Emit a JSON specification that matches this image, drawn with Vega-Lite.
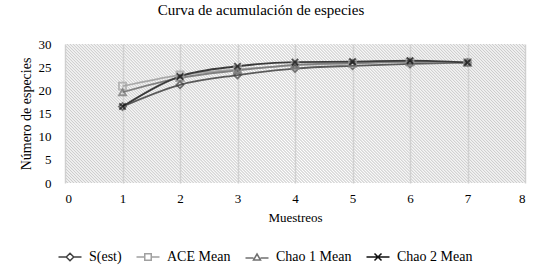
{
  "$schema": "https://vega.github.io/schema/vega-lite/v6.json",
  "width": 460,
  "height": 139,
  "autosize": "none",
  "padding": {"left": 65, "top": 44, "right": 20, "bottom": 95},
  "background": "white",
  "title": {"text": "Curva de acumulación de especies", "font": "Liberation Serif", "fontSize": 15, "fontWeight": "normal", "color": "#000000", "offset": 20, "dx": -34},
  "config": {"view": {"stroke": null, "fill": {"gradient": "linear", "x1": 0, "y1": 1, "x2": 1.193, "y2": 0.64, "stops": [
{"offset":0,"color":"#cccccc"},{"offset":0.0025,"color":"#fff"},{"offset":0.005,"color":"#cccccc"},{"offset":0.0075,"color":"#fff"},
{"offset":0.01,"color":"#cccccc"},{"offset":0.0125,"color":"#fff"},{"offset":0.015,"color":"#cccccc"},{"offset":0.0175,"color":"#fff"},
{"offset":0.02,"color":"#cccccc"},{"offset":0.0225,"color":"#fff"},{"offset":0.025,"color":"#cccccc"},{"offset":0.0275,"color":"#fff"},
{"offset":0.03,"color":"#cccccc"},{"offset":0.0325,"color":"#fff"},{"offset":0.035,"color":"#cccccc"},{"offset":0.0375,"color":"#fff"},
{"offset":0.04,"color":"#cccccc"},{"offset":0.0425,"color":"#fff"},{"offset":0.045,"color":"#cccccc"},{"offset":0.0475,"color":"#fff"},
{"offset":0.05,"color":"#cccccc"},{"offset":0.0525,"color":"#fff"},{"offset":0.055,"color":"#cccccc"},{"offset":0.0575,"color":"#fff"},
{"offset":0.06,"color":"#cccccc"},{"offset":0.0625,"color":"#fff"},{"offset":0.065,"color":"#cccccc"},{"offset":0.0675,"color":"#fff"},
{"offset":0.07,"color":"#cccccc"},{"offset":0.0725,"color":"#fff"},{"offset":0.075,"color":"#cccccc"},{"offset":0.0775,"color":"#fff"},
{"offset":0.08,"color":"#cccccc"},{"offset":0.0825,"color":"#fff"},{"offset":0.085,"color":"#cccccc"},{"offset":0.0875,"color":"#fff"},
{"offset":0.09,"color":"#cccccc"},{"offset":0.0925,"color":"#fff"},{"offset":0.095,"color":"#cccccc"},{"offset":0.0975,"color":"#fff"},
{"offset":0.10,"color":"#cccccc"},{"offset":0.1025,"color":"#fff"},{"offset":0.105,"color":"#cccccc"},{"offset":0.1075,"color":"#fff"},
{"offset":0.11,"color":"#cccccc"},{"offset":0.1125,"color":"#fff"},{"offset":0.115,"color":"#cccccc"},{"offset":0.1175,"color":"#fff"},
{"offset":0.12,"color":"#cccccc"},{"offset":0.1225,"color":"#fff"},{"offset":0.125,"color":"#cccccc"},{"offset":0.1275,"color":"#fff"},
{"offset":0.13,"color":"#cccccc"},{"offset":0.1325,"color":"#fff"},{"offset":0.135,"color":"#cccccc"},{"offset":0.1375,"color":"#fff"},
{"offset":0.14,"color":"#cccccc"},{"offset":0.1425,"color":"#fff"},{"offset":0.145,"color":"#cccccc"},{"offset":0.1475,"color":"#fff"},
{"offset":0.15,"color":"#cccccc"},{"offset":0.1525,"color":"#fff"},{"offset":0.155,"color":"#cccccc"},{"offset":0.1575,"color":"#fff"},
{"offset":0.16,"color":"#cccccc"},{"offset":0.1625,"color":"#fff"},{"offset":0.165,"color":"#cccccc"},{"offset":0.1675,"color":"#fff"},
{"offset":0.17,"color":"#cccccc"},{"offset":0.1725,"color":"#fff"},{"offset":0.175,"color":"#cccccc"},{"offset":0.1775,"color":"#fff"},
{"offset":0.18,"color":"#cccccc"},{"offset":0.1825,"color":"#fff"},{"offset":0.185,"color":"#cccccc"},{"offset":0.1875,"color":"#fff"},
{"offset":0.19,"color":"#cccccc"},{"offset":0.1925,"color":"#fff"},{"offset":0.195,"color":"#cccccc"},{"offset":0.1975,"color":"#fff"},
{"offset":0.20,"color":"#cccccc"},{"offset":0.2025,"color":"#fff"},{"offset":0.205,"color":"#cccccc"},{"offset":0.2075,"color":"#fff"},
{"offset":0.21,"color":"#cccccc"},{"offset":0.2125,"color":"#fff"},{"offset":0.215,"color":"#cccccc"},{"offset":0.2175,"color":"#fff"},
{"offset":0.22,"color":"#cccccc"},{"offset":0.2225,"color":"#fff"},{"offset":0.225,"color":"#cccccc"},{"offset":0.2275,"color":"#fff"},
{"offset":0.23,"color":"#cccccc"},{"offset":0.2325,"color":"#fff"},{"offset":0.235,"color":"#cccccc"},{"offset":0.2375,"color":"#fff"},
{"offset":0.24,"color":"#cccccc"},{"offset":0.2425,"color":"#fff"},{"offset":0.245,"color":"#cccccc"},{"offset":0.2475,"color":"#fff"},
{"offset":0.25,"color":"#cccccc"},{"offset":0.2525,"color":"#fff"},{"offset":0.255,"color":"#cccccc"},{"offset":0.2575,"color":"#fff"},
{"offset":0.26,"color":"#cccccc"},{"offset":0.2625,"color":"#fff"},{"offset":0.265,"color":"#cccccc"},{"offset":0.2675,"color":"#fff"},
{"offset":0.27,"color":"#cccccc"},{"offset":0.2725,"color":"#fff"},{"offset":0.275,"color":"#cccccc"},{"offset":0.2775,"color":"#fff"},
{"offset":0.28,"color":"#cccccc"},{"offset":0.2825,"color":"#fff"},{"offset":0.285,"color":"#cccccc"},{"offset":0.2875,"color":"#fff"},
{"offset":0.29,"color":"#cccccc"},{"offset":0.2925,"color":"#fff"},{"offset":0.295,"color":"#cccccc"},{"offset":0.2975,"color":"#fff"},
{"offset":0.30,"color":"#cccccc"},{"offset":0.3025,"color":"#fff"},{"offset":0.305,"color":"#cccccc"},{"offset":0.3075,"color":"#fff"},
{"offset":0.31,"color":"#cccccc"},{"offset":0.3125,"color":"#fff"},{"offset":0.315,"color":"#cccccc"},{"offset":0.3175,"color":"#fff"},
{"offset":0.32,"color":"#cccccc"},{"offset":0.3225,"color":"#fff"},{"offset":0.325,"color":"#cccccc"},{"offset":0.3275,"color":"#fff"},
{"offset":0.33,"color":"#cccccc"},{"offset":0.3325,"color":"#fff"},{"offset":0.335,"color":"#cccccc"},{"offset":0.3375,"color":"#fff"},
{"offset":0.34,"color":"#cccccc"},{"offset":0.3425,"color":"#fff"},{"offset":0.345,"color":"#cccccc"},{"offset":0.3475,"color":"#fff"},
{"offset":0.35,"color":"#cccccc"},{"offset":0.3525,"color":"#fff"},{"offset":0.355,"color":"#cccccc"},{"offset":0.3575,"color":"#fff"},
{"offset":0.36,"color":"#cccccc"},{"offset":0.3625,"color":"#fff"},{"offset":0.365,"color":"#cccccc"},{"offset":0.3675,"color":"#fff"},
{"offset":0.37,"color":"#cccccc"},{"offset":0.3725,"color":"#fff"},{"offset":0.375,"color":"#cccccc"},{"offset":0.3775,"color":"#fff"},
{"offset":0.38,"color":"#cccccc"},{"offset":0.3825,"color":"#fff"},{"offset":0.385,"color":"#cccccc"},{"offset":0.3875,"color":"#fff"},
{"offset":0.39,"color":"#cccccc"},{"offset":0.3925,"color":"#fff"},{"offset":0.395,"color":"#cccccc"},{"offset":0.3975,"color":"#fff"},
{"offset":0.40,"color":"#cccccc"},{"offset":0.4025,"color":"#fff"},{"offset":0.405,"color":"#cccccc"},{"offset":0.4075,"color":"#fff"},
{"offset":0.41,"color":"#cccccc"},{"offset":0.4125,"color":"#fff"},{"offset":0.415,"color":"#cccccc"},{"offset":0.4175,"color":"#fff"},
{"offset":0.42,"color":"#cccccc"},{"offset":0.4225,"color":"#fff"},{"offset":0.425,"color":"#cccccc"},{"offset":0.4275,"color":"#fff"},
{"offset":0.43,"color":"#cccccc"},{"offset":0.4325,"color":"#fff"},{"offset":0.435,"color":"#cccccc"},{"offset":0.4375,"color":"#fff"},
{"offset":0.44,"color":"#cccccc"},{"offset":0.4425,"color":"#fff"},{"offset":0.445,"color":"#cccccc"},{"offset":0.4475,"color":"#fff"},
{"offset":0.45,"color":"#cccccc"},{"offset":0.4525,"color":"#fff"},{"offset":0.455,"color":"#cccccc"},{"offset":0.4575,"color":"#fff"},
{"offset":0.46,"color":"#cccccc"},{"offset":0.4625,"color":"#fff"},{"offset":0.465,"color":"#cccccc"},{"offset":0.4675,"color":"#fff"},
{"offset":0.47,"color":"#cccccc"},{"offset":0.4725,"color":"#fff"},{"offset":0.475,"color":"#cccccc"},{"offset":0.4775,"color":"#fff"},
{"offset":0.48,"color":"#cccccc"},{"offset":0.4825,"color":"#fff"},{"offset":0.485,"color":"#cccccc"},{"offset":0.4875,"color":"#fff"},
{"offset":0.49,"color":"#cccccc"},{"offset":0.4925,"color":"#fff"},{"offset":0.495,"color":"#cccccc"},{"offset":0.4975,"color":"#fff"},
{"offset":0.50,"color":"#cccccc"},{"offset":0.5025,"color":"#fff"},{"offset":0.505,"color":"#cccccc"},{"offset":0.5075,"color":"#fff"},
{"offset":0.51,"color":"#cccccc"},{"offset":0.5125,"color":"#fff"},{"offset":0.515,"color":"#cccccc"},{"offset":0.5175,"color":"#fff"},
{"offset":0.52,"color":"#cccccc"},{"offset":0.5225,"color":"#fff"},{"offset":0.525,"color":"#cccccc"},{"offset":0.5275,"color":"#fff"},
{"offset":0.53,"color":"#cccccc"},{"offset":0.5325,"color":"#fff"},{"offset":0.535,"color":"#cccccc"},{"offset":0.5375,"color":"#fff"},
{"offset":0.54,"color":"#cccccc"},{"offset":0.5425,"color":"#fff"},{"offset":0.545,"color":"#cccccc"},{"offset":0.5475,"color":"#fff"},
{"offset":0.55,"color":"#cccccc"},{"offset":0.5525,"color":"#fff"},{"offset":0.555,"color":"#cccccc"},{"offset":0.5575,"color":"#fff"},
{"offset":0.56,"color":"#cccccc"},{"offset":0.5625,"color":"#fff"},{"offset":0.565,"color":"#cccccc"},{"offset":0.5675,"color":"#fff"},
{"offset":0.57,"color":"#cccccc"},{"offset":0.5725,"color":"#fff"},{"offset":0.575,"color":"#cccccc"},{"offset":0.5775,"color":"#fff"},
{"offset":0.58,"color":"#cccccc"},{"offset":0.5825,"color":"#fff"},{"offset":0.585,"color":"#cccccc"},{"offset":0.5875,"color":"#fff"},
{"offset":0.59,"color":"#cccccc"},{"offset":0.5925,"color":"#fff"},{"offset":0.595,"color":"#cccccc"},{"offset":0.5975,"color":"#fff"},
{"offset":0.60,"color":"#cccccc"},{"offset":0.6025,"color":"#fff"},{"offset":0.605,"color":"#cccccc"},{"offset":0.6075,"color":"#fff"},
{"offset":0.61,"color":"#cccccc"},{"offset":0.6125,"color":"#fff"},{"offset":0.615,"color":"#cccccc"},{"offset":0.6175,"color":"#fff"},
{"offset":0.62,"color":"#cccccc"},{"offset":0.6225,"color":"#fff"},{"offset":0.625,"color":"#cccccc"},{"offset":0.6275,"color":"#fff"},
{"offset":0.63,"color":"#cccccc"},{"offset":0.6325,"color":"#fff"},{"offset":0.635,"color":"#cccccc"},{"offset":0.6375,"color":"#fff"},
{"offset":0.64,"color":"#cccccc"},{"offset":0.6425,"color":"#fff"},{"offset":0.645,"color":"#cccccc"},{"offset":0.6475,"color":"#fff"},
{"offset":0.65,"color":"#cccccc"},{"offset":0.6525,"color":"#fff"},{"offset":0.655,"color":"#cccccc"},{"offset":0.6575,"color":"#fff"},
{"offset":0.66,"color":"#cccccc"},{"offset":0.6625,"color":"#fff"},{"offset":0.665,"color":"#cccccc"},{"offset":0.6675,"color":"#fff"},
{"offset":0.67,"color":"#cccccc"},{"offset":0.6725,"color":"#fff"},{"offset":0.675,"color":"#cccccc"},{"offset":0.6775,"color":"#fff"},
{"offset":0.68,"color":"#cccccc"},{"offset":0.6825,"color":"#fff"},{"offset":0.685,"color":"#cccccc"},{"offset":0.6875,"color":"#fff"},
{"offset":0.69,"color":"#cccccc"},{"offset":0.6925,"color":"#fff"},{"offset":0.695,"color":"#cccccc"},{"offset":0.6975,"color":"#fff"},
{"offset":0.70,"color":"#cccccc"},{"offset":0.7025,"color":"#fff"},{"offset":0.705,"color":"#cccccc"},{"offset":0.7075,"color":"#fff"},
{"offset":0.71,"color":"#cccccc"},{"offset":0.7125,"color":"#fff"},{"offset":0.715,"color":"#cccccc"},{"offset":0.7175,"color":"#fff"},
{"offset":0.72,"color":"#cccccc"},{"offset":0.7225,"color":"#fff"},{"offset":0.725,"color":"#cccccc"},{"offset":0.7275,"color":"#fff"},
{"offset":0.73,"color":"#cccccc"},{"offset":0.7325,"color":"#fff"},{"offset":0.735,"color":"#cccccc"},{"offset":0.7375,"color":"#fff"},
{"offset":0.74,"color":"#cccccc"},{"offset":0.7425,"color":"#fff"},{"offset":0.745,"color":"#cccccc"},{"offset":0.7475,"color":"#fff"},
{"offset":0.75,"color":"#cccccc"},{"offset":0.7525,"color":"#fff"},{"offset":0.755,"color":"#cccccc"},{"offset":0.7575,"color":"#fff"},
{"offset":0.76,"color":"#cccccc"},{"offset":0.7625,"color":"#fff"},{"offset":0.765,"color":"#cccccc"},{"offset":0.7675,"color":"#fff"},
{"offset":0.77,"color":"#cccccc"},{"offset":0.7725,"color":"#fff"},{"offset":0.775,"color":"#cccccc"},{"offset":0.7775,"color":"#fff"},
{"offset":0.78,"color":"#cccccc"},{"offset":0.7825,"color":"#fff"},{"offset":0.785,"color":"#cccccc"},{"offset":0.7875,"color":"#fff"},
{"offset":0.79,"color":"#cccccc"},{"offset":0.7925,"color":"#fff"},{"offset":0.795,"color":"#cccccc"},{"offset":0.7975,"color":"#fff"},
{"offset":0.80,"color":"#cccccc"},{"offset":0.8025,"color":"#fff"},{"offset":0.805,"color":"#cccccc"},{"offset":0.8075,"color":"#fff"},
{"offset":0.81,"color":"#cccccc"},{"offset":0.8125,"color":"#fff"},{"offset":0.815,"color":"#cccccc"},{"offset":0.8175,"color":"#fff"},
{"offset":0.82,"color":"#cccccc"},{"offset":0.8225,"color":"#fff"},{"offset":0.825,"color":"#cccccc"},{"offset":0.8275,"color":"#fff"},
{"offset":0.83,"color":"#cccccc"},{"offset":0.8325,"color":"#fff"},{"offset":0.835,"color":"#cccccc"},{"offset":0.8375,"color":"#fff"},
{"offset":0.84,"color":"#cccccc"},{"offset":0.8425,"color":"#fff"},{"offset":0.845,"color":"#cccccc"},{"offset":0.8475,"color":"#fff"},
{"offset":0.85,"color":"#cccccc"},{"offset":0.8525,"color":"#fff"},{"offset":0.855,"color":"#cccccc"},{"offset":0.8575,"color":"#fff"},
{"offset":0.86,"color":"#cccccc"},{"offset":0.8625,"color":"#fff"},{"offset":0.865,"color":"#cccccc"},{"offset":0.8675,"color":"#fff"},
{"offset":0.87,"color":"#cccccc"},{"offset":0.8725,"color":"#fff"},{"offset":0.875,"color":"#cccccc"},{"offset":0.8775,"color":"#fff"},
{"offset":0.88,"color":"#cccccc"},{"offset":0.8825,"color":"#fff"},{"offset":0.885,"color":"#cccccc"},{"offset":0.8875,"color":"#fff"},
{"offset":0.89,"color":"#cccccc"},{"offset":0.8925,"color":"#fff"},{"offset":0.895,"color":"#cccccc"},{"offset":0.8975,"color":"#fff"},
{"offset":0.90,"color":"#cccccc"},{"offset":0.9025,"color":"#fff"},{"offset":0.905,"color":"#cccccc"},{"offset":0.9075,"color":"#fff"},
{"offset":0.91,"color":"#cccccc"},{"offset":0.9125,"color":"#fff"},{"offset":0.915,"color":"#cccccc"},{"offset":0.9175,"color":"#fff"},
{"offset":0.92,"color":"#cccccc"},{"offset":0.9225,"color":"#fff"},{"offset":0.925,"color":"#cccccc"},{"offset":0.9275,"color":"#fff"},
{"offset":0.93,"color":"#cccccc"},{"offset":0.9325,"color":"#fff"},{"offset":0.935,"color":"#cccccc"},{"offset":0.9375,"color":"#fff"},
{"offset":0.94,"color":"#cccccc"},{"offset":0.9425,"color":"#fff"},{"offset":0.945,"color":"#cccccc"},{"offset":0.9475,"color":"#fff"},
{"offset":0.95,"color":"#cccccc"},{"offset":0.9525,"color":"#fff"},{"offset":0.955,"color":"#cccccc"},{"offset":0.9575,"color":"#fff"},
{"offset":0.96,"color":"#cccccc"},{"offset":0.9625,"color":"#fff"},{"offset":0.965,"color":"#cccccc"},{"offset":0.9675,"color":"#fff"},
{"offset":0.97,"color":"#cccccc"},{"offset":0.9725,"color":"#fff"},{"offset":0.975,"color":"#cccccc"},{"offset":0.9775,"color":"#fff"},
{"offset":0.98,"color":"#cccccc"},{"offset":0.9825,"color":"#fff"},{"offset":0.985,"color":"#cccccc"},{"offset":0.9875,"color":"#fff"},
{"offset":0.99,"color":"#cccccc"},{"offset":0.9925,"color":"#fff"},{"offset":0.995,"color":"#cccccc"},{"offset":0.9975,"color":"#fff"},
{"offset":1,"color":"#cccccc"}
]}}, "font": "Liberation Serif"},
  "data": {"values": [
    {"m": 1, "serie": "S(est)", "v": 16.5},
    {"m": 2, "serie": "S(est)", "v": 21.2},
    {"m": 3, "serie": "S(est)", "v": 23.3},
    {"m": 4, "serie": "S(est)", "v": 24.7},
    {"m": 5, "serie": "S(est)", "v": 25.3},
    {"m": 6, "serie": "S(est)", "v": 25.7},
    {"m": 7, "serie": "S(est)", "v": 26.0},
    {"m": 1, "serie": "ACE Mean", "v": 20.9},
    {"m": 2, "serie": "ACE Mean", "v": 23.3},
    {"m": 3, "serie": "ACE Mean", "v": 24.5},
    {"m": 4, "serie": "ACE Mean", "v": 25.4},
    {"m": 5, "serie": "ACE Mean", "v": 25.8},
    {"m": 6, "serie": "ACE Mean", "v": 26.1},
    {"m": 7, "serie": "ACE Mean", "v": 26.0},
    {"m": 1, "serie": "Chao 1 Mean", "v": 19.6},
    {"m": 2, "serie": "Chao 1 Mean", "v": 22.7},
    {"m": 3, "serie": "Chao 1 Mean", "v": 24.3},
    {"m": 4, "serie": "Chao 1 Mean", "v": 25.5},
    {"m": 5, "serie": "Chao 1 Mean", "v": 25.9},
    {"m": 6, "serie": "Chao 1 Mean", "v": 26.2},
    {"m": 7, "serie": "Chao 1 Mean", "v": 26.0},
    {"m": 1, "serie": "Chao 2 Mean", "v": 16.5},
    {"m": 2, "serie": "Chao 2 Mean", "v": 23.0},
    {"m": 3, "serie": "Chao 2 Mean", "v": 25.2},
    {"m": 4, "serie": "Chao 2 Mean", "v": 26.1},
    {"m": 5, "serie": "Chao 2 Mean", "v": 26.2},
    {"m": 6, "serie": "Chao 2 Mean", "v": 26.4},
    {"m": 7, "serie": "Chao 2 Mean", "v": 26.0}
  ]},
  "encoding": {
    "x": {"field": "m", "type": "quantitative", "scale": {"domain": [0, 8]},
      "axis": {"values": [0,1,2,3,4,5,6,7,8], "grid": true, "gridColor": "#d0d0d0", "gridWidth": 1.5, "domain": false, "ticks": false,
        "labelFont": "Liberation Serif", "labelFontSize": 13, "labelColor": "#000000", "labelPadding": 9,
        "title": "Muestreos", "titleFont": "Liberation Serif", "titleFontSize": 13, "titleFontWeight": "normal", "titleColor": "#000000", "titlePadding": 6}},
    "y": {"field": "v", "type": "quantitative", "scale": {"domain": [0, 30]},
      "axis": {"values": [0,5,10,15,20,25,30], "grid": false, "domain": false, "ticks": false,
        "labelFont": "Liberation Serif", "labelFontSize": 13, "labelColor": "#000000", "labelPadding": 14,
        "title": "Número de especies", "titleFont": "Liberation Serif", "titleFontSize": 14, "titleFontWeight": "normal", "titleColor": "#000000", "titlePadding": 5}}
  },
  "layer": [
    {
      "mark": {"type": "line", "interpolate": "monotone", "strokeWidth": 1.8},
      "encoding": {
        "color": {"field": "serie", "type": "nominal", "legend": null,
          "scale": {"domain": ["S(est)", "ACE Mean", "Chao 1 Mean", "Chao 2 Mean"], "range": ["#5a5a5a", "#a8a8a8", "#808080", "#3a3a3a"]}}
      }
    },
    {
      "mark": {"type": "point", "filled": false, "size": 50, "strokeWidth": 1.8},
      "encoding": {
        "color": {"field": "serie", "type": "nominal", "legend": null,
          "scale": {"domain": ["S(est)", "ACE Mean", "Chao 1 Mean", "Chao 2 Mean"], "range": ["#404040", "#a0a0a0", "#707070", "#111111"]}},
        "shape": {"field": "serie", "type": "nominal", "legend": null,
          "scale": {"domain": ["S(est)", "ACE Mean", "Chao 1 Mean", "Chao 2 Mean"], "range": ["diamond", "square", "triangle-up", "M-0.9,-0.9L0.9,0.9M0.9,-0.9L-0.9,0.9"]}}
      }
    },
    {
      "mark": {"type": "point", "filled": false, "opacity": 0},
      "encoding": {
        "color": {"field": "serie", "type": "nominal",
          "scale": {"domain": ["S(est)", "ACE Mean", "Chao 1 Mean", "Chao 2 Mean"], "range": ["#404040", "#a0a0a0", "#707070", "#111111"]},
          "legend": {"orient": "none", "legendX": -2, "legendY": 206, "direction": "horizontal", "title": null,
            "symbolSize": 100, "symbolStrokeWidth": 1.5, "labelOffset": 12, "columnPadding": 11,
            "labelFont": "Liberation Serif", "labelFontSize": 14, "labelColor": "#000000"}},
        "shape": {"field": "serie", "type": "nominal",
          "scale": {"domain": ["S(est)", "ACE Mean", "Chao 1 Mean", "Chao 2 Mean"], "range": [
            "M-2.3,0L-0.75,0M0.75,0L2.3,0M0,-0.75L0.75,0L0,0.75L-0.75,0Z",
            "M-2.3,0L-0.65,0M0.65,0L2.3,0M-0.65,-0.65L0.65,-0.65L0.65,0.65L-0.65,0.65Z",
            "M-2.3,0.2L-0.7,0.2M0.7,0.2L2.3,0.2M0,-0.6L0.7,0.6L-0.7,0.6Z",
            "M-2.3,0L2.3,0M-0.7,-0.7L0.7,0.7M0.7,-0.7L-0.7,0.7"]},
          "legend": {"orient": "none", "legendX": -2, "legendY": 206, "direction": "horizontal", "title": null,
            "symbolSize": 100, "symbolStrokeWidth": 1.5, "labelOffset": 12, "columnPadding": 11,
            "labelFont": "Liberation Serif", "labelFontSize": 14, "labelColor": "#000000"}}
      }
    }
  ],
  "resolve": {"scale": {"color": "independent", "shape": "independent"}}
}
